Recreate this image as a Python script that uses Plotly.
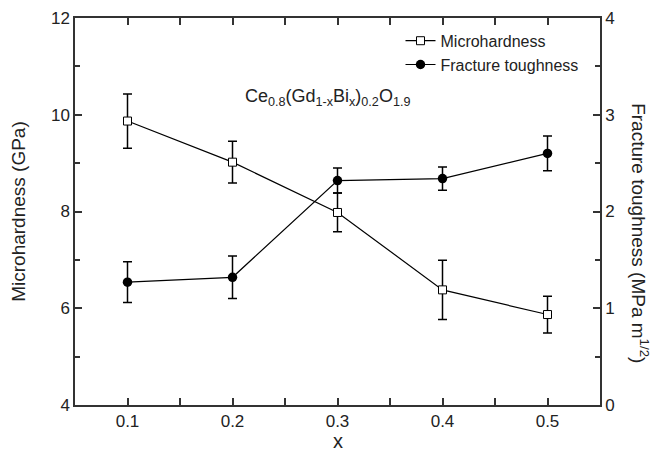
import plotly.graph_objects as go

x_vals = [0.1, 0.2, 0.3, 0.4, 0.5]
microhardness = [9.87, 9.02, 7.98, 6.38, 5.87]
microhardness_err = [0.56, 0.43, 0.40, 0.61, 0.38]
toughness = [1.27, 1.32, 2.32, 2.34, 2.60]
toughness_err = [0.21, 0.22, 0.13, 0.12, 0.18]

x_ticks = [0.1, 0.2, 0.3, 0.4, 0.5]
y_left_ticks = [4, 6, 8, 10, 12]
y_right_ticks = [0, 1, 2, 3, 4]

FONT = "Liberation Sans, Arial, sans-serif"
TXT = "#222222"

fig = go.Figure()
fig.add_trace(go.Scatter(
    x=x_vals, y=microhardness, name="Microhardness", mode="lines+markers",
    line=dict(color="black", width=1.2),
    marker=dict(symbol="square", size=8, color="white", line=dict(color="black", width=1)),
    error_y=dict(type="data", array=microhardness_err, visible=True, color="black", thickness=1.5, width=4.5),
))
fig.add_trace(go.Scatter(
    x=x_vals, y=toughness, name="Fracture toughness", mode="lines+markers", yaxis="y2",
    line=dict(color="black", width=1.2),
    marker=dict(symbol="circle", size=9.5, color="black"),
    error_y=dict(type="data", array=toughness_err, visible=True, color="black", thickness=1.5, width=4.5),
))

fig.add_annotation(
    x=0.29, y=10.36, xref="x", yref="y",
    text="Ce<sub>0.8</sub>(Gd<sub>1-x</sub>Bi<sub>x</sub>)<sub>0.2</sub>O<sub>1.9</sub>",
    showarrow=False, font=dict(family=FONT, size=18, color=TXT),
)
fig.add_annotation(
    x=1.077, y=0.443, xref="paper", yref="paper", xanchor="center", yanchor="middle", textangle=90,
    text="Fracture toughness (MPa m<sup>1/2</sup>)",
    showarrow=False, font=dict(family=FONT, size=19, color=TXT),
)
fig.add_annotation(
    x=-0.108, y=0.5, xref="paper", yref="paper", xanchor="center", yanchor="middle", textangle=-90,
    text="Microhardness (GPa)",
    showarrow=False, font=dict(family=FONT, size=19, color=TXT),
)
fig.add_annotation(
    x=0.5, y=-0.092, xref="paper", yref="paper", xanchor="center", yanchor="middle",
    text="x", showarrow=False, font=dict(family=FONT, size=20, color=TXT),
)

axis_common = dict(
    showline=True, linecolor="#333333", linewidth=1.5, ticks="inside",
    tickcolor="#333333", ticklen=7, tickwidth=1.5, showgrid=False, zeroline=False,
    tickfont=dict(family=FONT, size=17, color=TXT), automargin=False,
)

fig.update_layout(
    width=650, height=448,
    margin=dict(l=67, r=58, t=10, b=51),
    paper_bgcolor="white", plot_bgcolor="white",
    showlegend=True,
    legend=dict(x=0.62, y=0.985, xanchor="left", yanchor="top", bgcolor="rgba(0,0,0,0)",
                font=dict(family=FONT, size=16, color=TXT), tracegroupgap=0, itemwidth=30),
    xaxis=dict(axis_common, range=[0.05, 0.55], tickvals=x_ticks, ticktext=[str(v) for v in x_ticks],
               mirror="allticks",
               minor=dict(dtick=0.05, tick0=0.05, ticks="inside", ticklen=4, tickwidth=1.5, tickcolor="#333333")),
    yaxis=dict(axis_common, range=[4, 12], tickvals=y_left_ticks,
               minor=dict(dtick=1, tick0=4, ticks="inside", ticklen=5, tickwidth=1.5, tickcolor="#333333")),
    yaxis2=dict(axis_common, range=[0, 4], tickvals=y_right_ticks, overlaying="y", side="right",
                minor=dict(dtick=0.5, tick0=0, ticks="inside", ticklen=5, tickwidth=1.5, tickcolor="#333333")),
)

fig.write_html("out.html")
